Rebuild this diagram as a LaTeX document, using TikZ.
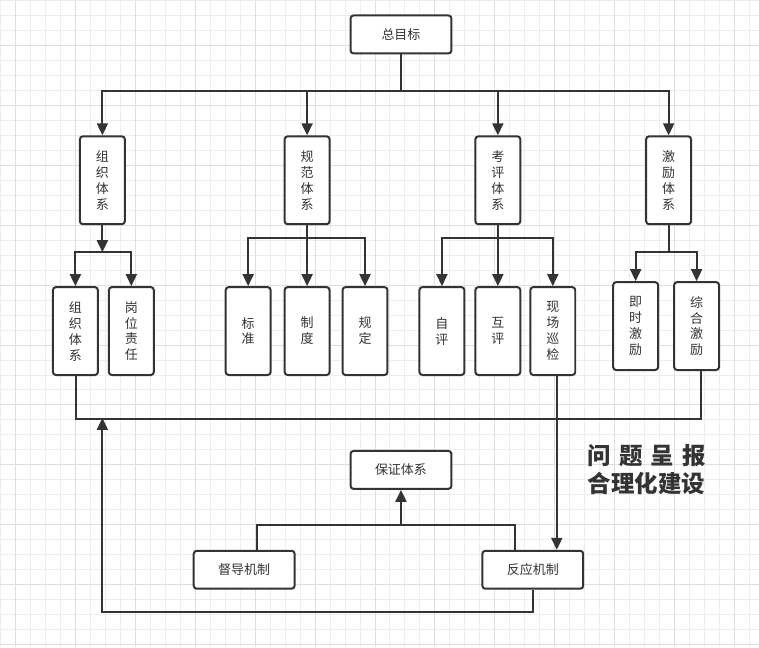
\documentclass[tikz,border=0pt]{standalone}
\usepackage{fontspec}
\newfontfamily\cjk{Noto Sans CJK SC}
\usetikzlibrary{arrows.meta}
\definecolor{ink}{HTML}{333333}
\definecolor{gridminor}{HTML}{EDEDED}
\definecolor{gridmajor}{HTML}{DEDEDE}
\begin{document}
\begin{tikzpicture}[x=1pt,y=-1pt,
  box/.style={draw=ink, line width=2pt, rounded corners=3pt, fill=white, inner sep=0pt,
    text=ink, font=\cjk\fontsize{13}{16}\selectfont, align=center},
  hbox/.style={box, minimum width=101pt, minimum height=38pt},
  vbox/.style={box, minimum width=45pt, minimum height=88pt},
  link/.style={draw=ink, line width=2pt},
  arr/.style={link, -{Triangle[length=12pt,width=11pt]}}]
% background and grid
\fill[white] (0,0) rectangle (759,647);
\foreach \x in {0,15,...,759} \draw[gridminor, line width=1pt] (\x,0) -- (\x,647);
\foreach \y in {0,15,...,647} \draw[gridminor, line width=1pt] (0,\y) -- (759,\y);
\foreach \x in {15,75,...,759} \draw[gridmajor, line width=1pt] (\x,0) -- (\x,647);
\foreach \y in {45,105,...,647} \draw[gridmajor, line width=1pt] (0,\y) -- (759,\y);
\useasboundingbox (0,0) rectangle (759,647);

% nodes
\node[hbox] (goal) at (401,34) {总目标};
\node[vbox] (org) at (102,180) {组\\织\\体\\系};
\node[vbox] (norm) at (307,180) {规\\范\\体\\系};
\node[vbox] (eval) at (498,180) {考\\评\\体\\系};
\node[vbox] (incent) at (669,180) {激\\励\\体\\系};

\node[vbox] (orgsys) at (75,331) {组\\织\\体\\系};
\node[vbox] (post) at (131,331) {岗\\位\\责\\任};
\node[vbox] (std) at (248,331) {标\\准};
\node[vbox] (rule) at (307,331) {制\\度};
\node[vbox] (regl) at (365,331) {规\\定};
\node[vbox] (self) at (442,331) {自\\评};
\node[vbox] (mutual) at (498,331) {互\\评};
\node[vbox] (patrol) at (553,331) {现\\场\\巡\\检};
\node[vbox] (instant) at (636,326) {即\\时\\激\\励};
\node[vbox] (compr) at (697,326) {综\\合\\激\\励};

\node[hbox] (guar) at (401,470) {保证体系};
\node[hbox] (superv) at (244,570) {督导机制};
\node[hbox] (react) at (533,570) {反应机制};

\node[text=ink, font=\cjk\bfseries\fontsize{23.5}{28}\selectfont, align=center, inner sep=0pt] (note) at (647,470)
  {\makebox[119pt][s]{问\hfill 题\hfill 呈\hfill 报}\\合理化建设};

% top level connectors
\coordinate (j0) at (401,91);
\draw[link] (goal.south) -- (j0);
\draw[arr] (j0) -| (org.north);
\draw[arr] (j0) -| (norm.north);
\draw[arr] (j0) -| (eval.north);
\draw[arr] (j0) -| (incent.north);

% organisation
\coordinate (j1) at (102,252);
\draw[arr] (org.south) -- (j1);
\draw[arr] (j1) -| (orgsys.north);
\draw[arr] (j1) -| (post.north);

% norms
\coordinate (j2) at (307,238);
\draw[arr] (norm.south) -- (rule.north);
\draw[arr] (j2) -| (std.north);
\draw[arr] (j2) -| (regl.north);

% evaluation
\coordinate (j3) at (498,238);
\draw[arr] (eval.south) -- (mutual.north);
\draw[arr] (j3) -| (self.north);
\draw[arr] (j3) -| (patrol.north);

% incentives
\coordinate (j4) at (669,252);
\draw[link] (incent.south) -- (j4);
\draw[arr] (j4) -| (instant.north);
\draw[arr] (j4) -| (compr.north);

% bus line
\coordinate (bus) at (0,419);
\coordinate (bl) at ([xshift=1pt]orgsys.south);
\coordinate (br) at ([xshift=4pt]compr.south);
\draw[link] (bl) -- (bl |- bus) -- (br |- bus) -- (br);

% patrol to reaction
\coordinate (pat) at ([xshift=4pt]patrol.south);
\draw[arr] (pat) -- (pat |- react.north);

% guarantee system
\coordinate (j5) at (401,525);
\coordinate (sL) at ([xshift=13pt]superv.north);
\coordinate (sR) at ([xshift=-18pt]react.north);
\draw[link] (sL) |- (sR |- j5) -- (sR);
\draw[arr] (j5) -- (guar.south);

% feedback loop
\coordinate (ret) at (102,612);
\draw[arr] (react.south) |- (ret) -- ([yshift=1pt]ret |- bus);
\end{tikzpicture}
\end{document}
